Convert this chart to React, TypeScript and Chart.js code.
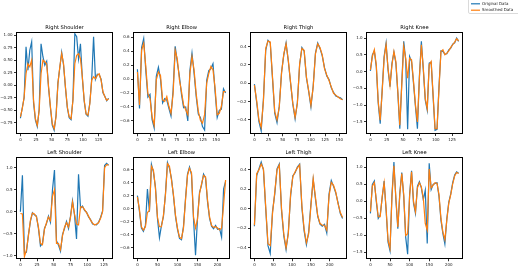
import React, { useEffect, useRef } from 'react';
import { Chart, registerables } from 'chart.js';

Chart.register(...registerables);
Chart.defaults.font.family = "'DejaVu Sans', sans-serif";

// ---------------- DATA ----------------
const SERIES_LABELS = ['Original Data', 'Smoothed Data'];
const TITLES = ['Right Shoulder', 'Right Elbow', 'Right Thigh', 'Right Knee', 'Left Shoulder', 'Left Elbow', 'Left Thigh', 'Left Knee'];

// frames between consecutive samples
const STRIDES = [3, 4, 4, 3, 3, 5, 6, 5];

const RS_ORIG = [-0.66, -0.45, -0.25, 0.77, 0.30, 0.70, 0.87, -0.35, -0.70, -0.83, -0.48, 0.83, 0.57, 0.40, 0.48, -0.05, -0.45, -0.80, -0.90, -0.60, 0.05, 0.35, 0.66, 0.40, -0.05, -0.45, -0.65, -0.69, -0.28, 1.03, 0.97, 0.53, 0.83, 0.15, -0.32, -0.58, -0.62, -0.35, 0.12, 0.97, 0.12, 0.22, 0.21, 0.12, -0.15, -0.22, -0.31, -0.26];
const RS_SMOOTH = [-0.63, -0.47, -0.23, 0.23, 0.43, 0.37, 0.50, -0.30, -0.67, -0.80, -0.50, 0.23, 0.50, 0.47, 0.43, -0.03, -0.43, -0.77, -0.87, -0.63, 0.03, 0.37, 0.63, 0.43, -0.03, -0.43, -0.63, -0.67, -0.30, 0.43, 0.60, 0.63, 0.53, 0.17, -0.30, -0.57, -0.60, -0.37, 0.10, 0.17, 0.13, 0.20, 0.23, 0.10, -0.13, -0.23, -0.30, -0.27];

const RE_ORIG = [0.14, -0.42, 0.45, 0.58, 0.12, -0.26, -0.22, -0.58, -0.70, 0.04, 0.17, 0.00, -0.34, -0.28, -0.30, -0.42, -0.53, -0.16, 0.47, 0.24, 0.04, -0.22, -0.41, -0.40, -0.60, 0.12, 0.37, 0.08, -0.25, -0.50, -0.55, -0.68, -0.73, -0.02, 0.12, 0.15, 0.22, -0.18, -0.55, -0.45, -0.43, -0.14, -0.20];
const RE_SMOOTH = [0.10, -0.37, 0.41, 0.51, 0.18, -0.21, -0.28, -0.54, -0.66, -0.01, 0.10, 0.05, -0.30, -0.32, -0.25, -0.39, -0.49, -0.21, 0.41, 0.29, -0.01, -0.18, -0.37, -0.44, -0.51, 0.08, 0.32, 0.13, -0.21, -0.46, -0.59, -0.63, -0.51, -0.06, 0.08, 0.18, 0.13, -0.13, -0.51, -0.49, -0.39, -0.18, -0.18];

const RT_ORIG = [-0.01, -0.21, -0.42, -0.52, -0.17, 0.36, 0.47, 0.44, 0.05, -0.33, -0.43, -0.25, 0.12, 0.31, 0.44, 0.24, 0.00, -0.23, -0.39, -0.21, 0.20, 0.39, 0.35, 0.06, -0.09, -0.26, -0.03, 0.33, 0.44, 0.38, 0.30, 0.17, 0.08, 0.04, -0.05, -0.10, -0.14, -0.15, -0.16, -0.18];
const RT_SMOOTH = [-0.02, -0.19, -0.40, -0.48, -0.19, 0.38, 0.46, 0.45, 0.07, -0.31, -0.40, -0.26, 0.11, 0.32, 0.43, 0.25, 0.01, -0.22, -0.37, -0.22, 0.21, 0.38, 0.36, 0.07, -0.08, -0.24, -0.04, 0.32, 0.43, 0.39, 0.31, 0.16, 0.09, 0.03, -0.04, -0.11, -0.13, -0.15, -0.17, -0.18];

const RK_ORIG = [0.02, 0.50, 0.62, 0.15, -0.95, -1.55, -0.55, 0.45, 0.85, 0.05, -0.45, 0.25, 0.58, 0.25, -0.65, -1.70, -0.35, 0.90, 0.35, -1.72, 0.45, 0.30, -0.35, -1.05, -1.70, -0.15, 0.90, 0.05, -0.85, -1.15, 0.25, 0.28, -0.75, -1.75, -1.72, -0.45, 0.62, 0.60, 0.52, 0.53, 0.65, 0.70, 0.82, 0.86, 1.00, 0.90];
const RK_SMOOTH = [0.05, 0.45, 0.65, 0.20, -0.90, -1.45, -0.60, 0.40, 0.80, 0.10, -0.40, 0.20, 0.60, 0.30, -0.60, -1.60, -0.40, 0.75, 0.40, -0.20, 0.40, 0.35, -0.30, -1.00, -1.50, -0.20, 0.80, 0.10, -0.80, -1.10, 0.20, 0.30, -0.70, -1.70, -1.70, -0.50, 0.60, 0.65, 0.50, 0.55, 0.62, 0.72, 0.80, 0.88, 0.98, 0.92];

const LS_ORIG = [0.00, 0.83, -0.95, -0.92, -0.52, -0.22, -0.02, -0.07, -0.10, -0.38, -0.78, -0.72, -0.38, -0.27, -0.10, -0.24, 0.50, 0.95, -0.66, -0.76, -0.90, -0.52, -0.38, -0.22, -0.38, -0.10, 0.25, -0.08, -0.62, 0.85, 0.08, 0.13, 0.03, -0.01, -0.12, -0.18, -0.28, -0.29, -0.30, -0.24, -0.13, 0.02, 1.05, 1.10, 1.06];
const LS_SMOOTH = [-0.04, -0.05, -1.02, -0.87, -0.55, -0.19, -0.03, -0.05, -0.12, -0.35, -0.72, -0.75, -0.40, -0.25, -0.12, -0.20, 0.35, 0.50, -0.72, -0.72, -0.86, -0.55, -0.35, -0.25, -0.35, -0.12, 0.22, -0.05, -0.28, -0.30, 0.11, 0.11, 0.05, -0.02, -0.10, -0.19, -0.26, -0.30, -0.28, -0.25, -0.15, 0.00, 1.00, 1.07, 1.06];

const LE_ORIG = [0.20, -0.04, -0.30, -0.35, -0.26, 0.30, -0.05, 0.68, 0.56, 0.33, -0.15, -0.45, -0.26, -0.12, 0.23, 0.71, 0.62, 0.46, 0.19, -0.12, -0.32, -0.46, -0.48, -0.27, 0.15, 0.53, 0.64, 0.52, -0.16, -0.72, -0.14, 0.25, 0.36, 0.53, 0.47, 0.10, -0.15, -0.27, -0.31, -0.26, -0.32, -0.31, -0.44, 0.30, 0.42];
const LE_SMOOTH = [0.18, -0.01, -0.28, -0.33, -0.28, -0.06, -0.03, 0.65, 0.59, 0.31, -0.13, -0.28, -0.28, -0.10, 0.21, 0.69, 0.65, 0.44, 0.21, -0.10, -0.30, -0.44, -0.46, -0.30, 0.13, 0.51, 0.62, 0.55, -0.13, -0.30, -0.16, 0.23, 0.38, 0.51, 0.49, 0.13, -0.13, -0.26, -0.29, -0.28, -0.30, -0.33, -0.30, 0.05, 0.44];

const LT_ORIG = [-0.18, 0.34, 0.41, 0.48, 0.40, 0.00, -0.38, -0.46, -0.03, 0.15, 0.41, 0.46, -0.02, -0.28, -0.42, -0.24, 0.13, 0.34, 0.37, 0.43, 0.46, 0.01, -0.23, -0.37, -0.24, 0.05, 0.30, 0.10, -0.08, -0.16, -0.18, -0.16, -0.25, 0.15, 0.29, 0.23, 0.16, 0.06, -0.05, -0.10];
const LT_SMOOTH = [-0.17, 0.36, 0.40, 0.46, 0.41, 0.02, -0.36, -0.38, -0.05, 0.17, 0.40, 0.45, 0.00, -0.26, -0.40, -0.26, 0.15, 0.33, 0.38, 0.42, 0.45, 0.03, -0.21, -0.35, -0.26, 0.03, 0.31, 0.12, -0.07, -0.15, -0.17, -0.17, -0.22, 0.13, 0.27, 0.24, 0.17, 0.05, -0.04, -0.09];

const LK_ORIG = [-0.35, 0.50, 0.60, 0.00, -0.50, -0.40, 0.10, 0.60, -0.25, -1.20, -1.45, 0.20, 1.16, 0.05, -0.80, 0.25, 0.85, 0.15, -1.05, -1.55, 0.20, 0.90, -0.05, -0.35, 0.45, 0.58, 0.40, 0.05, 0.33, -1.24, 1.12, 0.35, 0.50, 0.53, 0.55, 0.15, -0.55, -0.95, -1.25, -0.50, -0.02, 0.22, 0.55, 0.78, 0.87, 0.83];
const LK_SMOOTH = [-0.30, 0.45, 0.55, 0.05, -0.45, -0.45, 0.14, 0.55, -0.20, -1.14, -1.38, 0.14, 1.05, 0.10, -0.75, 0.20, 0.82, 0.20, -1.00, -0.95, 0.14, 0.87, 0.00, -0.30, 0.40, 0.55, 0.43, 0.10, -0.65, -0.84, 0.95, 0.40, 0.48, 0.55, 0.53, 0.20, -0.50, -0.90, -1.12, -0.55, -0.05, 0.20, 0.52, 0.75, 0.85, 0.82];

const ORIG = [RS_ORIG, RE_ORIG, RT_ORIG, RK_ORIG, LS_ORIG, LE_ORIG, LT_ORIG, LK_ORIG];
const SMOOTH = [RS_SMOOTH, RE_SMOOTH, RT_SMOOTH, RK_SMOOTH, LS_SMOOTH, LE_SMOOTH, LT_SMOOTH, LK_SMOOTH];

// tick labels
const X_TICKS_A = [0, 25, 50, 75, 100, 125];
const X_TICKS_B = [0, 25, 50, 75, 100, 125, 150];
const X_TICKS_C = [0, 50, 100, 150, 200];
const X_TICKS = [X_TICKS_A, X_TICKS_B, X_TICKS_B, X_TICKS_A, X_TICKS_A, X_TICKS_C, X_TICKS_C, X_TICKS_C];

const Y_TICKS_SHOULDER_R = [-0.75, -0.5, -0.25, 0, 0.25, 0.5, 0.75, 1.0];
const Y_TICKS_ELBOW = [-0.6, -0.4, -0.2, 0, 0.2, 0.4, 0.6];
const Y_TICKS_THIGH = [-0.4, -0.2, 0, 0.2, 0.4];
const Y_TICKS_KNEE = [-1.5, -1.0, -0.5, 0, 0.5, 1.0];
const Y_TICKS_SHOULDER_L = [-1.0, -0.5, 0, 0.5, 1.0];
const Y_TICKS = [Y_TICKS_SHOULDER_R, Y_TICKS_ELBOW, Y_TICKS_THIGH, Y_TICKS_KNEE, Y_TICKS_SHOULDER_L, Y_TICKS_ELBOW, Y_TICKS_THIGH, Y_TICKS_KNEE];
const Y_DECIMALS = [2, 1, 1, 1, 1, 1, 1, 1];
const Y_LIMITS = [[-0.98, 1.06], [-0.79, 0.67], [-0.557, 0.557], [-1.86, 1.18], [-1.08, 1.24], [-0.78, 0.79], [-0.52, 0.53], [-1.70, 1.30]];

// ---------------- LAYOUT / STYLE ----------------
const BLUE = '#1f77b4';
const ORANGE = '#ff7f0e';
const COL_LEFT = [16, 133, 250, 366];
const ROW_TOP = [32, 157];
const BOX_W = 97;
const BOX_H = 102;
const YAXIS_W = 16;
const XAXIS_H = 10;
const TITLE_SIZE = 5.2;
const TITLE_H = TITLE_SIZE * 1.2 + 1;
const TICK_SIZE = 4;
const LINE_W = 1.2;
const FIG_W = 518;
const FIG_H = 266;

const fmtNum = (v: number, d: number) => {
  const s = Math.abs(v).toFixed(d);
  return v < -1e-9 ? '\u2212' + s : s;
};

const boxPlugin = {
  id: 'boxFrame',
  afterDatasetsDraw(chart: any) {
    const { ctx, chartArea: a } = chart;
    ctx.save();
    ctx.strokeStyle = '#000';
    ctx.lineWidth = 1;
    ctx.strokeRect(Math.round(a.left) + 0.5, Math.round(a.top) + 0.5, Math.round(a.right - a.left) - 1, Math.round(a.bottom - a.top) - 1);
    ctx.restore();
  },
};

const legendPlugin = {
  id: 'figLegend',
  afterDraw(chart: any) {
    const ctx = chart.ctx;
    const cx = chart.canvas.offsetLeft || 0;
    const x0 = 468 - cx;
    ctx.save();
    ctx.fillStyle = 'rgba(255,255,255,0.85)';
    ctx.strokeStyle = '#d0d0d0';
    ctx.lineWidth = 0.8;
    ctx.beginPath();
    ctx.roundRect(x0 + 0.5, -3, 60, 16.5, 1.5);
    ctx.fill();
    ctx.stroke();
    const ds = chart.data.datasets;
    ds.forEach((d: any, i: number) => {
      const y = 3.8 + i * 6.4;
      ctx.strokeStyle = d.borderColor;
      ctx.lineWidth = LINE_W;
      ctx.beginPath();
      ctx.moveTo(x0 + 3, y);
      ctx.lineTo(x0 + 12, y);
      ctx.stroke();
      ctx.fillStyle = '#222';
      ctx.font = `${TICK_SIZE}px 'DejaVu Sans'`;
      ctx.textBaseline = 'middle';
      ctx.textAlign = 'left';
      ctx.fillText(d.label, x0 + 14, y);
    });
    ctx.restore();
  },
};

function Panel({ idx }: { idx: number }) {
  const ref = useRef<HTMLCanvasElement>(null);
  const col = idx % 4;
  const row = Math.floor(idx / 4);
  const boxL = COL_LEFT[col];
  const boxT = ROW_TOP[row];
  const withLegend = idx === 3;
  const cx = boxL - YAXIS_W;
  const cy = withLegend ? 0 : boxT - TITLE_H - 4;
  const cw = withLegend ? FIG_W - cx : YAXIS_W + BOX_W + 4;
  const ch = Math.ceil(boxT - cy + BOX_H + XAXIS_H);

  useEffect(() => {
    const stride = STRIDES[idx];
    const n = ORIG[idx].length;
    const span = (n - 1) * stride;
    const margin = span * 0.05;
    const toPts = (arr: number[]) => arr.map((v, i) => ({ x: i * stride, y: v }));
    const xt = X_TICKS[idx];
    const yt = Y_TICKS[idx];
    const dec = Y_DECIMALS[idx];
    const chart = new Chart(ref.current as HTMLCanvasElement, {
      type: 'line',
      data: {
        datasets: [
          { label: SERIES_LABELS[0], data: toPts(ORIG[idx]), borderColor: BLUE, backgroundColor: BLUE, borderWidth: LINE_W, pointRadius: 0, tension: 0, order: 1 },
          { label: SERIES_LABELS[1], data: toPts(SMOOTH[idx]), borderColor: ORANGE, backgroundColor: ORANGE, borderWidth: LINE_W, pointRadius: 0, tension: 0, order: 0 },
        ],
      },
      options: {
        animation: false,
        responsive: false,
        maintainAspectRatio: false,
        devicePixelRatio: 1,
        events: [],
        layout: {
          autoPadding: false,
          padding: {
            left: boxL - cx - YAXIS_W,
            top: boxT - cy - TITLE_H,
            right: cx + cw - (boxL + BOX_W),
            bottom: cy + ch - (boxT + BOX_H) - XAXIS_H,
          },
        },
        plugins: {
          legend: { display: false },
          tooltip: { enabled: false },
          title: {
            display: true,
            text: TITLES[idx],
            fullSize: false,
            color: '#000',
            font: { size: TITLE_SIZE, weight: 'normal', lineHeight: 1.2 },
            padding: { top: 0, bottom: 1 },
          },
        },
        scales: {
          x: {
            type: 'linear',
            min: -margin,
            max: span + margin,
            grid: { display: true, drawOnChartArea: false, drawTicks: true, tickLength: 2, color: '#000', lineWidth: 0.8 },
            border: { display: false },
            ticks: {
              autoSkip: false,
              maxRotation: 0,
              minRotation: 0,
              padding: 1.5,
              color: '#222',
              font: { size: TICK_SIZE },
              callback: (v: any) => String(Math.round(Number(v))),
            },
            afterBuildTicks: (axis: any) => {
              axis.ticks = xt.map((v) => ({ value: v }));
            },
            afterFit: (axis: any) => {
              axis.height = XAXIS_H;
              axis.paddingLeft = 0;
              axis.paddingRight = 0;
            },
          },
          y: {
            type: 'linear',
            min: Y_LIMITS[idx][0],
            max: Y_LIMITS[idx][1],
            grid: { display: true, drawOnChartArea: false, drawTicks: true, tickLength: 2, color: '#000', lineWidth: 0.8 },
            border: { display: false },
            ticks: {
              padding: 1.5,
              color: '#222',
              font: { size: TICK_SIZE },
              callback: (v: any) => fmtNum(Number(v), dec),
            },
            afterBuildTicks: (axis: any) => {
              axis.ticks = yt.map((v) => ({ value: v }));
            },
            afterFit: (axis: any) => {
              axis.width = YAXIS_W;
              axis.paddingTop = 0;
              axis.paddingBottom = 0;
            },
          },
        },
      } as any,
      plugins: withLegend ? [boxPlugin, legendPlugin] : [boxPlugin],
    });
    return () => chart.destroy();
  }, []);

  return (
    <canvas
      ref={ref}
      width={cw}
      height={ch}
      style={{ position: 'absolute', left: cx, top: cy, width: cw, height: ch }}
    />
  );
}

export default function App() {
  return (
    <div style={{ position: 'fixed', left: 0, top: 0, width: FIG_W, height: FIG_H, overflow: 'hidden', background: '#fff' }}>
      {TITLES.map((_, i) => (
        <Panel key={i} idx={i} />
      ))}
    </div>
  );
}
